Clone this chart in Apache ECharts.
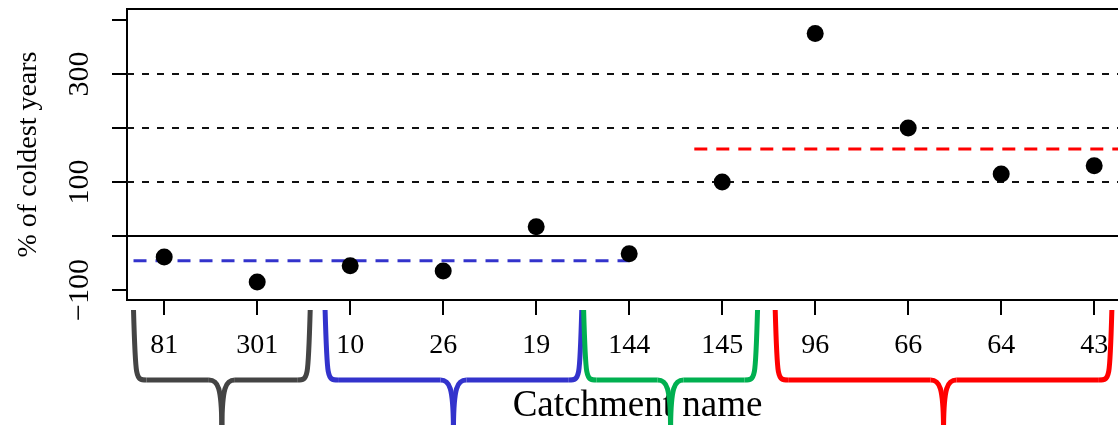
<!DOCTYPE html>
<html>
<head>
<meta charset="utf-8">
<script src="https://cdn.jsdelivr.net/npm/echarts@6/dist/echarts.min.js"></script>
<style>
  html, body { margin: 0; padding: 0; background: #fff; }
  #main { width: 1118px; height: 425px; }
</style>
</head>
<body>
<div id="main"></div>
<script>
// catchments on the x axis, in plotted order
var catchments = ['81', '301', '10', '26', '19', '144', '145', '96', '66', '64', '43'];
var coldPct = [-39, -85, -55, -65, 17, -33, 100, 375, 200, 115, 130];

// group means (dashed lines) : [x from, x to] in category units, and y value
var blueMeanSpan = [0.67, 6];
var blueMean = -46;
var redMeanSpan = [6.7, 11.6];
var redMean = 161;

// reference lines
var dashedRefs = [100, 200, 300];
var yTicks = [-100, 0, 100, 200, 300, 400];
var yLabels = [-100, 100, 300];

// braces under the axis: span in category units
var braceGroups = [
    { span: [0.67, 2.57], color: '#444444' },
    { span: [2.73, 5.49], color: '#3333cc' },
    { span: [5.51, 7.38], color: '#00b050' },
    { span: [7.57, 11.19], color: '#ff0000' }
];

var xIdx = catchments.map(function (c, i) { return i + 1; });
var font = 'Liberation Serif';

var chart = echarts.init(document.getElementById('main'));
chart.setOption({
    animation: false,
    backgroundColor: '#fff',
    grid: {
        left: 127, top: 9, right: -2, bottom: 125,
        outerBoundsMode: 'none',
        show: true, borderColor: '#000', borderWidth: 2
    },
    xAxis: {
        type: 'value',
        min: 0.6,
        max: 0.6 + 993 / 93,
        axisLine: { show: true, onZero: false, lineStyle: { color: '#000', width: 2 } },
        axisTick: { show: true, customValues: xIdx, length: 15, lineStyle: { color: '#000', width: 2 } },
        axisLabel: {
            customValues: xIdx,
            formatter: function (v) { return catchments[Math.round(v) - 1]; },
            margin: 32,
            color: '#000',
            fontFamily: font,
            fontSize: 28
        },
        splitLine: { show: false },
        name: 'Catchment name',
        nameLocation: 'middle',
        nameGap: 88,
        nameTextStyle: { color: '#000', fontFamily: font, fontSize: 37, padding: [0, 0, 0, 28] }
    },
    yAxis: {
        type: 'value',
        min: -118.5,
        max: 420.4,
        axisLine: { show: true, onZero: false, lineStyle: { color: '#000', width: 2 } },
        axisTick: { show: true, customValues: yTicks, length: 15, lineStyle: { color: '#000', width: 2 } },
        axisLabel: {
            customValues: yLabels,
            rotate: 90,
            formatter: function (v) { return v < 0 ? '\u2212' + Math.abs(v) : String(v); },
            margin: 32,
            color: '#000',
            fontFamily: font,
            fontSize: 30
        },
        splitLine: { show: false },
        name: '% of coldest years',
        nameLocation: 'middle',
        nameGap: 84,
        nameTextStyle: { color: '#000', fontFamily: font, fontSize: 28 }
    },
    series: [
        {
            type: 'scatter',
            data: coldPct.map(function (v, i) { return [i + 1, v]; }),
            symbol: 'circle',
            symbolSize: 17,
            itemStyle: { color: '#000', opacity: 1 },
            z: 5,
            markLine: {
                silent: true,
                symbol: 'none',
                label: { show: false },
                data: dashedRefs.map(function (v) {
                    return { yAxis: v, lineStyle: { color: '#111', type: [7, 8], width: 2 } };
                }).concat([{ yAxis: 0, lineStyle: { color: '#000', type: 'solid', width: 2 } }])
            }
        },
        {
            type: 'line',
            data: [[blueMeanSpan[0], blueMean], [blueMeanSpan[1], blueMean]],
            symbol: 'none',
            lineStyle: { color: '#3333cc', width: 3, type: [13, 9] },
            z: 3
        },
        {
            type: 'line',
            data: [[redMeanSpan[0], redMean], [redMeanSpan[1], redMean]],
            symbol: 'none',
            lineStyle: { color: '#ff0000', width: 3, type: [13, 9] },
            z: 3
        }
    ]
});

// curly braces below the tick labels, built from curves and lines
function braceParts(x0, x1, color) {
    var cx = (x0 + x1) / 2, yTop = 310, yMid = 380, yBot = 432, r = 13;
    var style = { fill: null, stroke: color, lineWidth: 5, lineCap: 'butt' };
    var parts = [];
    [[x0, 1], [x1, -1]].forEach(function (s) {
        var x = s[0], d = s[1];
        parts.push({
            type: 'bezierCurve', z: 100, silent: true,
            shape: { x1: x, y1: yTop, x2: x + d * r, y2: yMid, cpx1: x + d * 2, cpy1: yMid, cpx2: x + d * 2, cpy2: yMid },
            style: style
        });
        parts.push({
            type: 'line', z: 100, silent: true,
            shape: { x1: x + d * r, y1: yMid, x2: cx - d * r, y2: yMid },
            style: style
        });
        parts.push({
            type: 'bezierCurve', z: 100, silent: true,
            shape: { x1: cx - d * r, y1: yMid, x2: cx, y2: yBot, cpx1: cx - d * 4, cpy1: yMid, cpx2: cx, cpy2: yMid + 6 },
            style: style
        });
    });
    return parts;
}

var braceElements = [];
braceGroups.forEach(function (g) {
    var x0 = chart.convertToPixel({ gridIndex: 0 }, [g.span[0], 0])[0];
    var x1 = chart.convertToPixel({ gridIndex: 0 }, [g.span[1], 0])[0];
    braceElements = braceElements.concat(braceParts(x0, x1, g.color));
});
chart.setOption({ graphic: braceElements });
</script>
</body>
</html>
